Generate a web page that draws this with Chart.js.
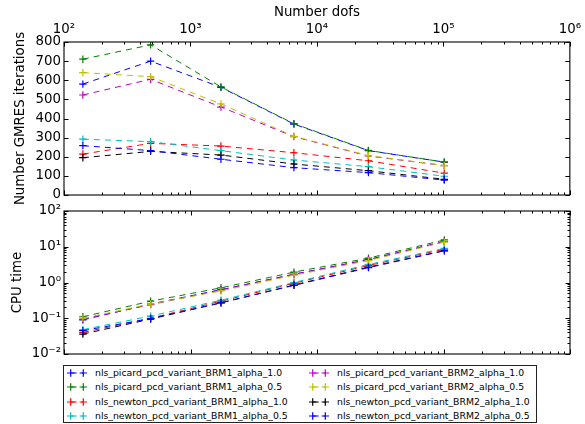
<!DOCTYPE html>
<html>
<head>
<meta charset="utf-8">
<script src="https://cdn.jsdelivr.net/npm/chart.js@4/dist/chart.umd.min.js"></script>
<style>
  body { margin: 0; background: #fff; font-family: "DejaVu Sans", sans-serif; }
  #wrap { position: relative; width: 585px; height: 424px; overflow: hidden; }
  #gmres { position: absolute; left: 0; top: 0; }
  #cpu { position: absolute; left: 0; top: 200px; }
  #legend { position: absolute; left: 63px; top: 365px; width: 472px; height: 56px; border: 1px solid #222; background: #fff; }
  .item { position: absolute; height: 14px; line-height: 14px; font-size: 9.3px; color: #000; white-space: nowrap; }
  .item svg { position: absolute; left: 0; top: 0; }
  .item span { position: absolute; left: 31px; top: 0; }
</style>
</head>
<body>
<div id="wrap">
  <canvas id="gmres" width="585" height="215"></canvas>
  <canvas id="cpu" width="585" height="165"></canvas>
  <div id="legend"></div>
</div>
<script>
const dofs = [141, 484, 1742, 6577, 25530, 101600];

const series_names = [
  'nls_picard_pcd_variant_BRM1_alpha_1.0',
  'nls_picard_pcd_variant_BRM1_alpha_0.5',
  'nls_newton_pcd_variant_BRM1_alpha_1.0',
  'nls_newton_pcd_variant_BRM1_alpha_0.5',
  'nls_picard_pcd_variant_BRM2_alpha_1.0',
  'nls_picard_pcd_variant_BRM2_alpha_0.5',
  'nls_newton_pcd_variant_BRM2_alpha_1.0',
  'nls_newton_pcd_variant_BRM2_alpha_0.5'
];
const series_colors = ['#0000ff', '#008000', '#ff0000', '#00bfbf', '#bf00bf', '#bfbf00', '#000000', '#0000ff'];

// GMRES iterations, same order as series_names
const gmres_picard_brm1_10 = [580, 700, 563, 371, 232, 172];
const gmres_picard_brm1_05 = [710, 785, 565, 373, 233, 172];
const gmres_newton_brm1_10 = [214, 270, 256, 221, 179, 114];
const gmres_newton_brm1_05 = [292, 279, 232, 183, 148, 98];
const gmres_picard_brm2_10 = [523, 605, 460, 305, 204, 154];
const gmres_picard_brm2_05 = [640, 619, 476, 307, 206, 154];
const gmres_newton_brm2_10 = [195, 228, 209, 162, 127, 82];
const gmres_newton_brm2_05 = [258, 232, 187, 143, 117, 78];

// CPU time
const cpu_picard_brm1_10 = [0.09, 0.25, 0.63, 1.7, 4.4, 14];
const cpu_picard_brm1_05 = [0.11, 0.30, 0.71, 1.95, 4.8, 15.5];
const cpu_newton_brm1_10 = [0.04, 0.10, 0.30, 0.95, 3.0, 8.5];
const cpu_newton_brm1_05 = [0.048, 0.115, 0.32, 1.0, 3.2, 9.0];
const cpu_picard_brm2_10 = [0.095, 0.24, 0.62, 1.7, 4.3, 14];
const cpu_picard_brm2_05 = [0.10, 0.25, 0.58, 1.6, 4.1, 13.5];
const cpu_newton_brm2_10 = [0.036, 0.095, 0.27, 0.85, 2.7, 7.8];
const cpu_newton_brm2_05 = [0.045, 0.098, 0.27, 0.83, 2.6, 7.7];

const gmres_values = [gmres_picard_brm1_10, gmres_picard_brm1_05, gmres_newton_brm1_10, gmres_newton_brm1_05,
  gmres_picard_brm2_10, gmres_picard_brm2_05, gmres_newton_brm2_10, gmres_newton_brm2_05];
const cpu_values = [cpu_picard_brm1_10, cpu_picard_brm1_05, cpu_newton_brm1_10, cpu_newton_brm1_05,
  cpu_picard_brm2_10, cpu_picard_brm2_05, cpu_newton_brm2_10, cpu_newton_brm2_05];

// tick labels
const x_decades = [1e2, 1e3, 1e4, 1e5, 1e6];
const gmres_ticks = [0, 100, 200, 300, 400, 500, 600, 700, 800];
const cpu_decades = [1e-2, 1e-1, 1e0, 1e1, 1e2];

const FONT = { family: 'DejaVu Sans', size: 13.33 };
const sup = { '-': '\u207b', '0': '\u2070', '1': '\u00b9', '2': '\u00b2', '3': '\u00b3', '4': '\u2074', '5': '\u2075', '6': '\u2076', '7': '\u2077', '8': '\u2078', '9': '\u2079' };

function powLabel(v) {
  const e = Math.log10(v);
  if (Math.abs(e - Math.round(e)) > 1e-6) return null;
  return '10' + String(Math.round(e)).split('').map(c => sup[c]).join('');
}

function makeDatasets(values) {
  return values.map((vals, i) => ({
    label: series_names[i],
    data: dofs.map((d, j) => ({ x: d, y: vals[j] })),
    borderColor: series_colors[i],
    backgroundColor: series_colors[i],
    borderWidth: 1,
    borderDash: [6, 5],
    pointStyle: 'cross',
    pointRadius: 3.7,
    pointBorderWidth: 1.2,
    fill: false,
    tension: 0,
    order: values.length - i
  }));
}

function logMinor(decades) {
  const out = [];
  decades.forEach((d, i) => {
    out.push({ v: d, major: true });
    if (i < decades.length - 1) for (let m = 2; m <= 9; m++) out.push({ v: d * m, major: false });
  });
  return out;
}

// inward ticks on all four sides + full frame, matplotlib style
const frame = {
  id: 'frame',
  afterDraw(chart, args, opts) {
    const { ctx, chartArea: a, scales } = chart;
    ctx.save();
    ctx.strokeStyle = '#000';
    ctx.lineWidth = 1;
    ctx.beginPath();
    logMinor(x_decades).forEach(t => {
      const px = Math.round(scales.x.getPixelForValue(t.v)) + 0.5;
      const len = t.major ? 4.5 : 2.5;
      ctx.moveTo(px, a.top); ctx.lineTo(px, a.top + len);
      ctx.moveTo(px, a.bottom); ctx.lineTo(px, a.bottom - len);
    });
    const yt = opts.logY ? logMinor(cpu_decades) : gmres_ticks.map(v => ({ v: v, major: true }));
    yt.forEach(t => {
      const py = Math.round(scales.y.getPixelForValue(t.v)) + 0.5;
      const len = t.major ? 4.5 : 2.5;
      ctx.moveTo(a.left, py); ctx.lineTo(a.left + len, py);
      ctx.moveTo(a.right, py); ctx.lineTo(a.right - len, py);
    });
    ctx.stroke();
    ctx.lineWidth = 1.1;
    ctx.strokeRect(a.left, a.top, a.right - a.left, a.bottom - a.top);
    ctx.restore();
  }
};

new Chart(document.getElementById('gmres'), {
  type: 'line',
  data: { datasets: makeDatasets(gmres_values) },
  options: {
    responsive: false,
    animation: false,
    layout: { padding: { left: 0, right: 15, top: 0, bottom: 20 } },
    plugins: { legend: { display: false }, tooltip: { enabled: false }, frame: { logY: false } },
    scales: {
      x: {
        type: 'logarithmic', position: 'top', min: 1e2, max: 1e6,
        grid: { display: false, drawTicks: false }, border: { display: false },
        ticks: { autoSkip: false, maxRotation: 0, padding: 4, color: '#000', font: FONT, callback: v => powLabel(v) },
        title: { display: true, text: 'Number dofs', color: '#000', font: FONT, padding: { top: 5, bottom: 0 } },
        afterFit: s => { s.height = 42; }
      },
      y: {
        type: 'linear', min: 0, max: 800,
        grid: { display: false, drawTicks: false }, border: { display: false },
        ticks: { stepSize: 100, padding: 3, color: '#000', font: FONT },
        title: { display: true, text: 'Number GMRES iterations', color: '#000', font: FONT, padding: { top: 13, bottom: 0 } },
        afterFit: s => { s.width = 64; }
      }
    }
  },
  plugins: [frame]
});

new Chart(document.getElementById('cpu'), {
  type: 'line',
  data: { datasets: makeDatasets(cpu_values) },
  options: {
    responsive: false,
    animation: false,
    layout: { padding: { left: 0, right: 15, top: 5, bottom: 8 } },
    plugins: { legend: { display: false }, tooltip: { enabled: false }, frame: { logY: true } },
    scales: {
      x: { type: 'logarithmic', min: 1e2, max: 1e6, display: false },
      y: {
        type: 'logarithmic', min: 1e-2, max: 1e2,
        grid: { display: false, drawTicks: false }, border: { display: false },
        ticks: { autoSkip: false, padding: 3, color: '#000', font: FONT, callback: v => powLabel(v) },
        title: { display: true, text: 'CPU time', color: '#000', font: FONT, padding: { top: 10, bottom: 0 } },
        afterFit: s => { s.width = 64; }
      }
    }
  },
  plugins: [frame]
});

// legend, two columns, column-major like the original
const legend = document.getElementById('legend');
series_names.forEach((name, i) => {
  const col = Math.floor(i / 4), row = i % 4;
  const el = document.createElement('div');
  el.className = 'item';
  el.style.left = (col === 0 ? 0 : 242) + 'px';
  el.style.top = (row * 14.3) + 'px';
  const c = series_colors[i];
  el.innerHTML =
    '<svg width="30" height="14">' +
    '<line x1="6.7" y1="7" x2="19.3" y2="7" stroke="' + c + '" stroke-width="1" stroke-dasharray="6 5"/>' +
    '<path d="M3 7H10.4M6.7 3.3V10.7M15.6 7H23M19.3 3.3V10.7" stroke="' + c + '" stroke-width="1.2" fill="none"/>' +
    '</svg><span>' + name + '</span>';
  legend.appendChild(el);
});
</script>
</body>
</html>
